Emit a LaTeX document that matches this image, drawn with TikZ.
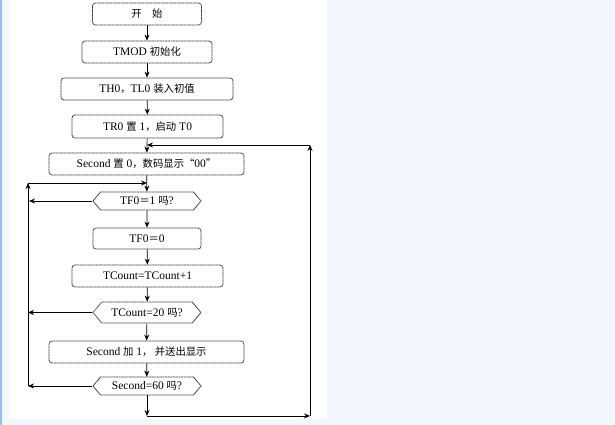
\documentclass[tikz,border=0pt]{standalone}
\usepackage{fontspec}
\setmainfont{Liberation Serif}
\newfontfamily\cjk[Scale=0.9]{Noto Sans CJK SC}
\usetikzlibrary{arrows.meta}
\usetikzlibrary{shapes.symbols}

\definecolor{pagebg}{HTML}{F2F7FD}
\definecolor{edgeblue}{HTML}{9DBBE9}
\definecolor{boxline}{HTML}{404040}

\tikzset{
  procbox/.style={draw=boxline, dash pattern=on 1.2pt off 0.4pt, line width=0.8pt, rounded corners=3pt,
    inner sep=0pt, font=\fontsize{11.5}{13}\selectfont, text=black},
  askbox/.style={draw=boxline, dash pattern=on 1.2pt off 0.4pt, line width=0.8pt, signal, signal to=west and east,
    signal pointer angle=100, inner sep=0pt, minimum width=108pt, minimum height=18pt,
    font=\fontsize{11.5}{13}\selectfont, text=black},
  arr/.style={-{Stealth[length=6pt,width=5pt]}, line width=0.7pt}
}

\begin{document}
\begin{tikzpicture}[x=1pt, y=-1pt]
\useasboundingbox (0,0) rectangle (615,425);
\fill[pagebg] (0,0) rectangle (615,425);
\fill[edgeblue] (0,0) rectangle (2,425);
\fill[white] (9,0) rectangle (327,419);

\node[procbox, minimum width=109pt, minimum height=22pt] (start) at (147,14) {{\cjk 开\quad 始}};
\node[procbox, minimum width=130pt, minimum height=22pt] (tmod) at (147,52) {TMOD {\cjk 初始化}};
\node[procbox, minimum width=172pt, minimum height=22pt] (load) at (147,89) {TH0{\cjk ，}TL0 {\cjk 装入初值}};
\node[procbox, minimum width=151pt, minimum height=23pt] (run) at (147.5,126.5) {TR0 {\cjk 置} 1{\cjk ，启动} T0};
\node[procbox, minimum width=195pt, minimum height=22pt] (clr) at (146.5,164) {Second {\cjk 置} 0{\cjk ，数码显示“}00{\cjk ”}};
\node[askbox] (ovf) at (147,201) {TF0{\cjk ＝}1 {\cjk 吗}?};
\node[procbox, minimum width=108pt, minimum height=21pt] (rst) at (147,238.5) {TF0{\cjk ＝}0};
\node[procbox, minimum width=151pt, minimum height=22pt] (inc) at (147.5,276) {TCount=TCount+1};
\node[askbox, minimum height=21pt] (cnt) at (147,312.5) {TCount=20 {\cjk 吗}?};
\node[procbox, minimum width=195pt, minimum height=22pt] (sadd) at (146.5,352) {Second {\cjk 加} 1{\cjk ，\ 并送出显示}};
\node[askbox] (sec) at (147,386) {Second=60 {\cjk 吗}?};

\coordinate (jtop) at (147,145);
\coordinate (rtop) at (310,145);
\coordinate (rbot) at (310,416);
\coordinate (jbot) at (147,416);
\coordinate (jleft) at (147,183);
\coordinate (ltop) at (28,183);
\coordinate (lbot) at (28,386);
\coordinate (lq1) at (29,201);
\coordinate (lq2) at (28,312.5);

\draw[arr] (start) -- (tmod);
\draw[arr] (tmod) -- (load);
\draw[arr] (load) -- (run);
\draw[arr] (run) -- (clr);
\draw[arr] (clr) -- (ovf);
\draw[arr] (ovf) -- (rst);
\draw[arr] (rst) -- (inc);
\draw[arr] (inc) -- (cnt);
\draw[arr] (cnt) -- (sadd);
\draw[arr] (sadd) -- (sec);
\draw[arr] (sec) -- (jbot);

% no-branches back to the left
\draw[arr] (ovf.west) -- (lq1);
\draw[arr] (cnt.west) -- (lq2);
\draw[arr] (sec.west) -- (lbot);
\draw[arr] (lbot) -- (ltop);
\draw[arr] (ltop) -- (jleft);

% outer loop on the right
\draw[arr] (jbot) -- (rbot);
\draw[arr] (rbot) -- (rtop);
\draw[arr] (rtop) -- (jtop);
\end{tikzpicture}
\end{document}
